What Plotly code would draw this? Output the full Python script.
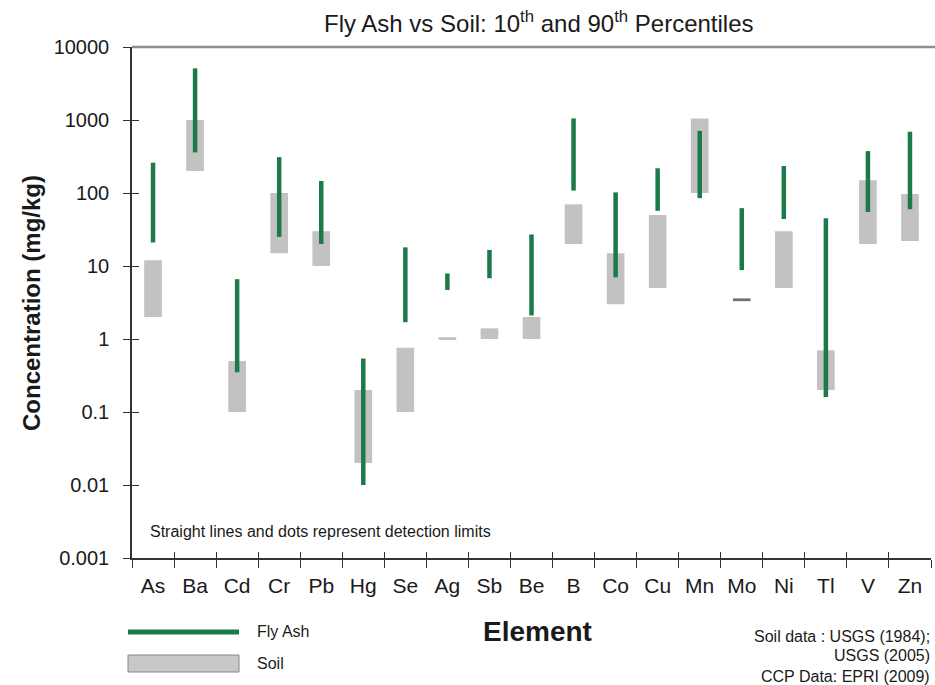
import plotly.graph_objects as go

# ---------------- data ----------------
elements = ["As", "Ba", "Cd", "Cr", "Pb", "Hg", "Se", "Ag", "Sb", "Be",
            "B", "Co", "Cu", "Mn", "Mo", "Ni", "Tl", "V", "Zn"]
fly_p10 = [21, 360, 0.35, 25, 20, 0.01, 1.7, 4.7, 6.8, 2.1,
           108, 7, 57, 85, 8.8, 44, 0.16, 55, 60]
fly_p90 = [260, 5100, 6.6, 310, 146, 0.54, 18, 7.9, 16.6, 27,
           1050, 102, 218, 710, 62, 234, 45, 375, 690]
soil_p10 = [2.0, 200, 0.1, 15, 10, 0.02, 0.1, 0.97, 1.0, 1.0,
            20, 3.0, 5.0, 100, 3.3, 5.0, 0.2, 20, 22]
soil_p90 = [12, 1000, 0.5, 100, 30, 0.2, 0.76, 1.06, 1.4, 2.0,
            70, 15, 50, 1050, 3.6, 30, 0.7, 150, 97]
y_tickvals = [0.001, 0.01, 0.1, 1, 10, 100, 1000, 10000]
y_ticktext = ["0.001", "0.01", "0.1", "1", "10", "100", "1000", "10000"]

# ---------------- style ----------------
GREEN = "#1b7a48"
GREY = "#c2c2c2"
FONT = "Liberation Sans, Arial, sans-serif"
W, H = 935, 685
L, R, T, B = 132, 4, 47, 127
PW, PH = W - L - R, H - T - B


def px(xp):
    return (xp - L) / PW


def py(yp):
    return (H - B - yp) / PH


soil_colors = [GREY] * len(elements)
soil_colors[elements.index("Mo")] = "#707070"

fig = go.Figure()

fig.add_trace(go.Bar(
    x=elements,
    y=[hi - lo for lo, hi in zip(soil_p10, soil_p90)],
    base=soil_p10,
    width=0.42,
    marker=dict(color=soil_colors, line=dict(width=0)),
    name="Soil",
    showlegend=False,
))

fx, fy = [], []
for e, lo, hi in zip(elements, fly_p10, fly_p90):
    fx += [e, e, None]
    fy += [lo, hi, None]
fig.add_trace(go.Scatter(
    x=fx, y=fy, mode="lines",
    line=dict(color=GREEN, width=4.5),
    name="Fly Ash", showlegend=False,
))

fig.update_layout(
    width=W, height=H,
    margin=dict(l=L, r=R, t=T, b=B, pad=0),
    paper_bgcolor="white", plot_bgcolor="white",
    font=dict(family=FONT, color="#1a1a1a"),
    showlegend=False,
    xaxis=dict(
        type="category", categoryorder="array", categoryarray=elements,
        range=[-0.5, len(elements) - 0.5],
        tickson="boundaries", ticks="outside", ticklen=8, tickwidth=1.3,
        tickcolor="#333", showline=True, linecolor="#333", linewidth=1.5,
        showgrid=False, zeroline=False,
        tickfont=dict(size=21, family=FONT, color="#1a1a1a"),
        ticklabelstandoff=8,
    ),
    yaxis=dict(
        type="log", range=[-3, 4],
        tickvals=y_tickvals, ticktext=y_ticktext,
        ticks="outside", ticklen=7, tickwidth=1.3, tickcolor="#333",
        showline=True, linecolor="#333", linewidth=1.5,
        showgrid=False, zeroline=False,
        tickfont=dict(size=20, family=FONT, color="#1a1a1a"),
        ticklabelstandoff=10,
    ),
    yaxis2=dict(
        type="log", range=[-3, 4], overlaying="y", side="left",
        tickvals=y_tickvals, ticks="inside", ticklen=7, tickwidth=1.3,
        tickcolor="#333", showticklabels=False, showgrid=False,
        zeroline=False, showline=False,
    ),
    xaxis2=dict(
        range=[-0.5, len(elements) - 0.5], overlaying="x", side="bottom",
        tickvals=[i - 0.5 for i in range(len(elements) + 1)],
        ticks="inside", ticklen=6, tickwidth=1.3, tickcolor="#333",
        showticklabels=False, showgrid=False, zeroline=False, showline=False,
    ),
)

# invisible trace to activate overlay axes
fig.add_trace(go.Scatter(x=[0], y=[1], xaxis="x2", yaxis="y2", mode="markers",
                         marker=dict(opacity=0), hoverinfo="skip", showlegend=False))

shapes = [
    # top border line
    dict(type="line", xref="paper", yref="paper", x0=0, x1=px(935), y0=1, y1=1,
         line=dict(color="#8c8c8c", width=2.5)),
    # legend: fly ash line
    dict(type="line", xref="paper", yref="paper", x0=px(128), x1=px(239),
         y0=py(632), y1=py(632), line=dict(color=GREEN, width=5)),
    # legend: soil box
    dict(type="rect", xref="paper", yref="paper", x0=px(128), x1=px(239),
         y0=py(672), y1=py(655), fillcolor="#c8c8c8",
         line=dict(color="#888", width=1)),
]
fig.update_layout(shapes=shapes)

ann = [
    dict(text="Fly Ash vs Soil: 10<sup>th</sup> and 90<sup>th</sup> Percentiles",
         x=px(539), y=py(22), xanchor="center", yanchor="middle",
         font=dict(size=24, family=FONT, color="#1a1a1a")),
    dict(text="<b>Concentration (mg/kg)</b>", textangle=-90,
         x=px(31), y=py(303), xanchor="center", yanchor="middle",
         font=dict(size=24, family=FONT, color="#1a1a1a")),
    dict(text="<b>Element</b>", x=px(537), y=py(632),
         xanchor="center", yanchor="middle",
         font=dict(size=28, family=FONT, color="#1a1a1a")),
    dict(text="Straight lines and dots represent detection limits",
         x=px(148), y=py(531), xanchor="left", yanchor="middle",
         font=dict(size=16, family=FONT, color="#1a1a1a")),
    dict(text="Fly Ash", x=px(255), y=py(632), xanchor="left", yanchor="middle",
         font=dict(size=16, family=FONT, color="#1a1a1a")),
    dict(text="Soil", x=px(255), y=py(663), xanchor="left", yanchor="middle",
         font=dict(size=16, family=FONT, color="#1a1a1a")),
    dict(text="Soil data : USGS (1984);", x=px(932), y=py(636),
         xanchor="right", yanchor="middle",
         font=dict(size=16, family=FONT, color="#1a1a1a")),
    dict(text="USGS (2005)", x=px(932), y=py(656),
         xanchor="right", yanchor="middle",
         font=dict(size=16, family=FONT, color="#1a1a1a")),
    dict(text="CCP Data: EPRI (2009)", x=px(932), y=py(676),
         xanchor="right", yanchor="middle",
         font=dict(size=16, family=FONT, color="#1a1a1a")),
]
for a in ann:
    a.update(xref="paper", yref="paper", showarrow=False)
fig.update_layout(annotations=ann)

fig.write_html(
    "out.html",
    config={"displayModeBar": False},
    post_script="document.body.style.margin='0';document.body.style.overflow='hidden';",
)
